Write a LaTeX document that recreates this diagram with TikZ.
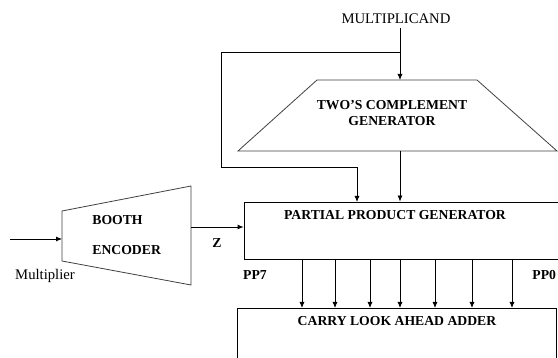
\documentclass[tikz,border=0pt]{standalone}
\usepackage{fontspec}
\setmainfont{Liberation Serif}
\usetikzlibrary{arrows.meta}
\begin{document}
\begin{tikzpicture}[x=1pt, y=-1pt, line width=0.8pt, >={Latex[length=6pt,width=5pt]}]
\tikzset{
  blk/.style={font=\fontsize{13.7}{16}\selectfont\bfseries, inner sep=0pt},
  sig/.style={font=\fontsize{14.7}{16}\selectfont, inner sep=0pt},
  unit/.style={draw, inner sep=0pt}
}
\useasboundingbox (0,0) rectangle (558,358);
\clip (0,0) rectangle (558,358);
% two's complement trapezium and the booth encoder
\coordinate (tctl) at (317,80);  \coordinate (tctr) at (477,80);
\coordinate (tcbr) at (557,151); \coordinate (tcbl) at (238,151);
\coordinate (tctop) at (400,80); \coordinate (tcbot) at (400,151);
\draw[black!75] (tctl) -- (tctr) -- (tcbr) -- (tcbl) -- cycle;
\node[blk, align=center] (tclabel) at (392,113) {TWO’S COMPLEMENT\\GENERATOR};
\coordinate (bel) at (62,239); \coordinate (ber) at (191,227);
\draw[black!75] (62,211) -- (191,186) -- (191,285) -- (62,261) -- cycle;
\node[blk, anchor=west] (booth) at (92,220) {BOOTH};
\node[blk, anchor=west] (enc) at (92,250) {ENCODER};
% partial product generator and the adder (run off the edge)
\node[unit, minimum width=330pt, minimum height=57pt] (ppg) at (409,230.5) {};
\node[blk] (ppglabel) at (395,215) {PARTIAL PRODUCT GENERATOR};
\node[unit, minimum width=319pt, minimum height=70pt] (cla) at (396.5,343) {};
\node[blk] (clalabel) at (397,321) {CARRY LOOK AHEAD ADDER};
% multiplicand in, straight and bypassed to the ppg
\node[sig] (mcand) at (396,19) {MULTIPLICAND};
\coordinate (split) at (400,52);
\coordinate (ppgin) at (357,202);
\draw[->] (mcand.south -| tctop) ++(0,4) -- (tctop);
\draw[->] (split) -- (221,52) -- (221,167) -- (ppgin |- 0,167) -- (ppgin);
\draw[->] (tcbot) -- (tcbot |- ppg.north);
% multiplier through the encoder
\coordinate (min) at (10,239);
\node[sig] (mlt) at (45,276) {Multiplier};
\draw[->] (min) -- (bel);
\draw[->] (ber) -- (ber -| ppg.west);
\node[blk] (z) at (217,243) {Z};
% partial products
\foreach \x in {302,335,370,400,435,472,512}
  \draw[->] (\x,259) -- (\x,308);
\node[blk] (pp7) at (255,275) {PP7};
\node[blk, anchor=west] (pp0) at (532,275) {PP0};
\end{tikzpicture}
\end{document}
